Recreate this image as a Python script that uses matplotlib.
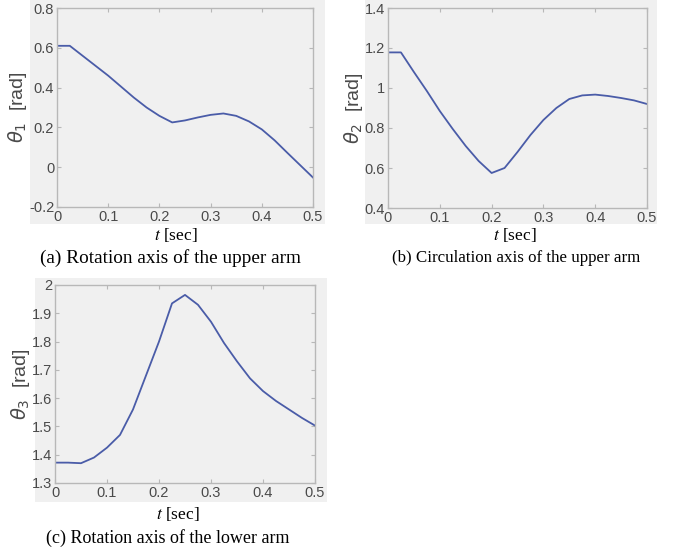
import matplotlib
matplotlib.use("Agg")
import matplotlib.pyplot as plt
from matplotlib.patches import Rectangle

W, H = 678, 554
DPI = 100

t = [0.0, 0.025, 0.05, 0.075, 0.1, 0.125, 0.15, 0.175, 0.2, 0.225, 0.25,
     0.275, 0.3, 0.325, 0.35, 0.375, 0.4, 0.425, 0.45, 0.475, 0.5]
theta1 = [0.61, 0.61, 0.56, 0.51, 0.46, 0.405, 0.35, 0.30, 0.258, 0.225, 0.235,
          0.25, 0.263, 0.27, 0.258, 0.23, 0.19, 0.135, 0.072, 0.01, -0.052]
theta2 = [1.178, 1.178, 1.08, 0.985, 0.885, 0.795, 0.71, 0.635, 0.575, 0.60, 0.68,
          0.765, 0.84, 0.90, 0.945, 0.963, 0.967, 0.96, 0.95, 0.938, 0.92]
theta3 = [1.372, 1.372, 1.37, 1.39, 1.425, 1.47, 1.56, 1.68, 1.80, 1.935, 1.965,
          1.93, 1.87, 1.795, 1.73, 1.67, 1.625, 1.59, 1.56, 1.53, 1.503]

xticks = [0, 0.1, 0.2, 0.3, 0.4, 0.5]
xticklabels = ["0", "0.1", "0.2", "0.3", "0.4", "0.5"]
yticks1 = [-0.2, 0, 0.2, 0.4, 0.6, 0.8]
yticklabels1 = ["-0.2", "0", "0.2", "0.4", "0.6", "0.8"]
yticks2 = [0.4, 0.6, 0.8, 1.0, 1.2, 1.4]
yticklabels2 = ["0.4", "0.6", "0.8", "1", "1.2", "1.4"]
yticks3 = [1.3, 1.4, 1.5, 1.6, 1.7, 1.8, 1.9, 2.0]
yticklabels3 = ["1.3", "1.4", "1.5", "1.6", "1.7", "1.8", "1.9", "2"]

ylabels = [r"$\theta_1$  [rad]", r"$\theta_2$  [rad]", r"$\theta_3$  [rad]"]
captions = ["(a) Rotation axis of the upper arm",
            "(b) Circulation axis of the upper arm",
            "(c) Rotation axis of the lower arm"]

LINE = "#4a5ca8"
BG = "#f0f0f0"
SPINE = "#b8b8b8"
TXT = "#4a4a4a"

fig = plt.figure(figsize=(W / DPI, H / DPI), dpi=DPI, facecolor="white")

def fx(px):
    return px / W

def fy(py):
    return 1 - py / H

# gray panel backgrounds (x0, y0, x1, y1) in pixels
panels = [(30, 0, 325, 224), (365, 0, 657, 224), (35, 278, 327, 502)]
for (x0, y0, x1, y1) in panels:
    fig.patches.append(Rectangle((fx(x0), fy(y1)), fx(x1) - fx(x0), fy(y0) - fy(y1),
                                 transform=fig.transFigure, facecolor=BG,
                                 edgecolor="none", zorder=-10))

# axes boxes (left, top, right, bottom) pixels
boxes = [(57, 8, 313, 207), (388, 8, 647, 208), (55, 285, 315, 483)]
data = [theta1, theta2, theta3]
yt = [(yticks1, yticklabels1), (yticks2, yticklabels2), (yticks3, yticklabels3)]
ylims = [(-0.2, 0.8), (0.4, 1.4), (1.3, 2.0)]
xlabel_pos = [(176, 235), (515, 235), (178, 514)]
caption_pos = [(170, 258), (516, 258), (168, 538)]
caption_size = [13.9, 12.2, 13.0]

for i in range(3):
    l, tp, r, b = boxes[i]
    ax = fig.add_axes([fx(l), fy(b), fx(r) - fx(l), fy(tp) - fy(b)])
    ax.set_facecolor(BG)
    ax.plot(t, data[i], color=LINE, lw=1.3)
    ax.set_xlim(0, 0.5)
    ax.set_ylim(*ylims[i])
    ax.set_xticks(xticks)
    ax.set_xticklabels(xticklabels)
    ax.set_yticks(yt[i][0])
    ax.set_yticklabels(yt[i][1])
    for s in ax.spines.values():
        s.set_color(SPINE)
        s.set_linewidth(1.0)
    ax.tick_params(direction="in", top=True, right=True, length=3,
                   color=SPINE, labelcolor=TXT, labelsize=10.5, pad=2)
    for lab in ax.get_xticklabels() + ax.get_yticklabels():
        lab.set_family("Liberation Sans")
    ax.set_ylabel(ylabels[i], fontsize=14, color=TXT, family="Liberation Sans",
                  labelpad=0)
    fig.text(fx(xlabel_pos[i][0]), fy(xlabel_pos[i][1]), r"$t$ [sec]",
             ha="center", va="center", fontsize=12.5, family="Liberation Serif",
             color="black", math_fontfamily="stix")
    fig.text(fx(caption_pos[i][0]), fy(caption_pos[i][1]), captions[i],
             ha="center", va="center", fontsize=caption_size[i],
             family="Liberation Serif", color="black")

fig.savefig("out.png", dpi=DPI, facecolor="white")
